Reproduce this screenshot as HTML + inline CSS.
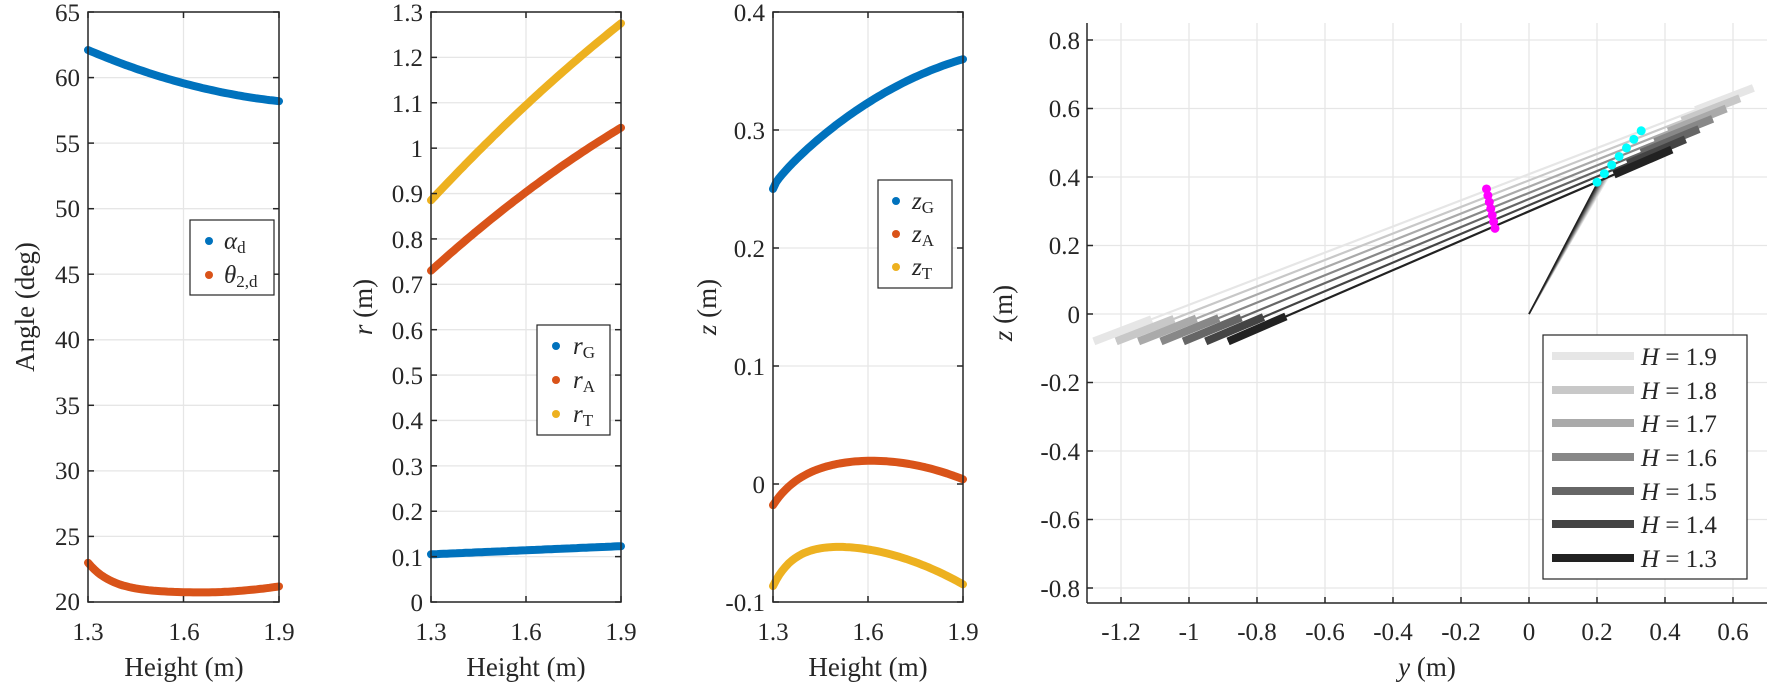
<!DOCTYPE html>
<html><head><meta charset="utf-8"><style>
html,body{margin:0;padding:0;background:#fff;}
svg{display:block;}
svg, svg text, svg tspan{font-family:'Liberation Serif','Times New Roman',Times,serif !important;}
.t{font-size:25px;fill:#262626;}
.g{stroke:#e6e6e6;stroke-width:1.3;}
.ax{stroke:#262626;stroke-width:1.5;fill:none;}
</style></head><body>
<svg id="s" width="1770" height="688" viewBox="0 0 1770 688" xmlns="http://www.w3.org/2000/svg" style="font-family:'Liberation Serif',serif">
<g id="grid"></g>
<g id="data"></g>
<g id="axes"></g>
<g class="t" text-anchor="end" style="font-family:'Liberation Serif',serif">
<text x="80" y="21">65</text><text x="80" y="86">60</text><text x="80" y="152">55</text><text x="80" y="217">50</text><text x="80" y="283">45</text><text x="80" y="348">40</text><text x="80" y="414">35</text><text x="80" y="479">30</text><text x="80" y="545">25</text><text x="80" y="610">20</text>
<text x="423" y="21">1.3</text><text x="423" y="66">1.2</text><text x="423" y="112">1.1</text><text x="423" y="157">1</text><text x="423" y="202">0.9</text><text x="423" y="248">0.8</text><text x="423" y="293">0.7</text><text x="423" y="339">0.6</text><text x="423" y="384">0.5</text><text x="423" y="429">0.4</text><text x="423" y="475">0.3</text><text x="423" y="520">0.2</text><text x="423" y="566">0.1</text><text x="423" y="611">0</text>
<text x="765" y="21">0.4</text><text x="765" y="139">0.3</text><text x="765" y="257">0.2</text><text x="765" y="375">0.1</text><text x="765" y="493">0</text><text x="765" y="611">-0.1</text>
<text x="1080" y="49">0.8</text><text x="1080" y="117">0.6</text><text x="1080" y="186">0.4</text><text x="1080" y="254">0.2</text><text x="1080" y="323">0</text><text x="1080" y="391">-0.2</text><text x="1080" y="460">-0.4</text><text x="1080" y="528">-0.6</text><text x="1080" y="597">-0.8</text>
</g>
<g class="t" text-anchor="middle" style="font-family:'Liberation Serif',serif">
<text x="88" y="640">1.3</text><text x="184" y="640">1.6</text><text x="279" y="640">1.9</text>
<text x="431" y="640">1.3</text><text x="526" y="640">1.6</text><text x="621" y="640">1.9</text>
<text x="773" y="640">1.3</text><text x="868" y="640">1.6</text><text x="963" y="640">1.9</text>
<text x="1121" y="640">-1.2</text><text x="1189" y="640">-1</text><text x="1257" y="640">-0.8</text><text x="1325" y="640">-0.6</text><text x="1393" y="640">-0.4</text><text x="1461" y="640">-0.2</text><text x="1529" y="640">0</text><text x="1597" y="640">0.2</text><text x="1665" y="640">0.4</text><text x="1733" y="640">0.6</text>
<text x="184" y="676" font-size="27">Height (m)</text>
<text x="526" y="676" font-size="27">Height (m)</text>
<text x="868" y="676" font-size="27">Height (m)</text>
<text x="1427" y="676" font-size="27"><tspan font-style="italic">y</tspan> (m)</text>
<text transform="translate(34,307) rotate(-90)" font-size="27">Angle (deg)</text>
<text transform="translate(372,307) rotate(-90)" font-size="27"><tspan font-style="italic">r</tspan> (m)</text>
<text transform="translate(716,307) rotate(-90)" font-size="27"><tspan font-style="italic">z</tspan> (m)</text>
<text transform="translate(1012,313) rotate(-90)" font-size="27"><tspan font-style="italic">z</tspan> (m)</text>
</g>
<g style="font-family:'Liberation Serif',serif">
<rect x="190" y="220" width="84" height="75" fill="#fff" stroke="#262626" stroke-width="1.2"/>
<circle cx="209" cy="241" r="4" fill="#0072BD"/><circle cx="209" cy="275" r="4" fill="#D95319"/>
<text x="224" y="249" class="t"><tspan font-style="italic">α</tspan><tspan font-size="17" dy="4">d</tspan></text>
<text x="224" y="283" class="t"><tspan font-style="italic">θ</tspan><tspan font-size="17" dy="4">2,d</tspan></text>

<rect x="537" y="325" width="73" height="110" fill="#fff" stroke="#262626" stroke-width="1.2"/>
<circle cx="556" cy="346" r="4" fill="#0072BD"/><circle cx="556" cy="380" r="4" fill="#D95319"/><circle cx="556" cy="414" r="4" fill="#EDB120"/>
<text x="573" y="354" class="t"><tspan font-style="italic">r</tspan><tspan font-size="17" dy="4">G</tspan></text>
<text x="573" y="388" class="t"><tspan font-style="italic">r</tspan><tspan font-size="17" dy="4">A</tspan></text>
<text x="573" y="422" class="t"><tspan font-style="italic">r</tspan><tspan font-size="17" dy="4">T</tspan></text>

<rect x="878" y="180" width="74" height="108" fill="#fff" stroke="#262626" stroke-width="1.2"/>
<circle cx="896" cy="201" r="4" fill="#0072BD"/><circle cx="896" cy="234" r="4" fill="#D95319"/><circle cx="896" cy="267" r="4" fill="#EDB120"/>
<text x="912" y="209" class="t"><tspan font-style="italic">z</tspan><tspan font-size="17" dy="4">G</tspan></text>
<text x="912" y="242" class="t"><tspan font-style="italic">z</tspan><tspan font-size="17" dy="4">A</tspan></text>
<text x="912" y="275" class="t"><tspan font-style="italic">z</tspan><tspan font-size="17" dy="4">T</tspan></text>

<rect x="1543" y="335" width="204" height="244" fill="#fff" stroke="#262626" stroke-width="1.2"/>
<g stroke-width="8">
<line x1="1552" y1="356" x2="1634" y2="356" stroke="#e6e6e6"/>
<line x1="1552" y1="390" x2="1634" y2="390" stroke="#c8c8c8"/>
<line x1="1552" y1="423" x2="1634" y2="423" stroke="#aaaaaa"/>
<line x1="1552" y1="457" x2="1634" y2="457" stroke="#888888"/>
<line x1="1552" y1="491" x2="1634" y2="491" stroke="#666666"/>
<line x1="1552" y1="524" x2="1634" y2="524" stroke="#444444"/>
<line x1="1552" y1="558" x2="1634" y2="558" stroke="#222222"/>
</g>
<g class="t">
<text x="1641" y="365"><tspan font-style="italic">H</tspan> = 1.9</text>
<text x="1641" y="399"><tspan font-style="italic">H</tspan> = 1.8</text>
<text x="1641" y="432"><tspan font-style="italic">H</tspan> = 1.7</text>
<text x="1641" y="466"><tspan font-style="italic">H</tspan> = 1.6</text>
<text x="1641" y="500"><tspan font-style="italic">H</tspan> = 1.5</text>
<text x="1641" y="533"><tspan font-style="italic">H</tspan> = 1.4</text>
<text x="1641" y="567"><tspan font-style="italic">H</tspan> = 1.3</text>
</g>
</g>
</svg>
<script>
var NS="http://www.w3.org/2000/svg";
function el(p,t,a){var e=document.createElementNS(NS,t);for(var k in a)e.setAttribute(k,a[k]);document.getElementById(p).appendChild(e);return e;}
function line(p,x1,y1,x2,y2,a){a=a||{};a.x1=x1;a.y1=y1;a.x2=x2;a.y2=y2;return el(p,"line",a);}
var P=[{l:88,r:279,yt:[12,77.6,143.1,208.7,274.2,339.8,405.3,470.9,536.4,602]},
{l:431,r:621,yt:[]},{l:773,r:963,yt:[12,130,248,366,484,602]}];
for(var i=0;i<14;i++)P[1].yt.push(12+i*590/13);
P.forEach(function(p){
 var m=(p.l+p.r)/2;
 line("grid",m,12,m,602,{"class":"g"});
 p.yt.forEach(function(y){line("grid",p.l,y,p.r,y,{"class":"g"});
  line("axes",p.l,y,p.l+6,y,{"class":"ax"});line("axes",p.r,y,p.r-6,y,{"class":"ax"});});
 [p.l,m,p.r].forEach(function(x){line("axes",x,602,x,596,{"class":"ax"});line("axes",x,12,x,18,{"class":"ax"});});
 el("axes","rect",{x:p.l,y:12,width:p.r-p.l,height:590,"class":"ax"});
});
function curve(pi,f,y0,y1,v0,v1,col){
 var p=P[pi],pts=[];
 for(var k=0;k<=60;k++){var t=k/60;var v=f(t);pts.push((p.l+t*(p.r-p.l)).toFixed(1)+","+(y0+(v-v0)/(v1-v0)*(y1-y0)).toFixed(1));}
 el("data","polyline",{points:pts.join(" "),fill:"none",stroke:col,"stroke-width":8,"stroke-linecap":"round","stroke-linejoin":"round"});
}
var B="#0072BD",O="#D95319",Y="#EDB120";
curve(0,function(t){return 62.1-3.9*(1.6*t-0.6*t*t);},602,12,20,65,B);
curve(0,function(t){return 20.7+2.3*Math.exp(-t/0.13)+1.2*Math.pow(Math.max(t-0.55,0),2)*2;},602,12,20,65,O);
curve(1,function(t){return 0.885+0.39*(1.15*t-0.15*t*t);},602,12,0,1.3,Y);
curve(1,function(t){return 0.73+0.315*(1.2*t-0.2*t*t);},602,12,0,1.3,O);
curve(1,function(t){return 0.105+0.018*t;},602,12,0,1.3,B);
curve(2,function(t){return 0.25+0.11*(0.25*Math.sqrt(t)+1.2*t-0.45*t*t);},602,12,-0.1,0.4,B);
curve(2,function(t){return 0.02-0.022*Math.exp(-t/0.12)-0.064*(t-0.5)*(t-0.5);},602,12,-0.1,0.4,O);
curve(2,function(t){return -0.052-0.03*Math.exp(-t/0.1)-0.062*(t-0.27)*(t-0.27);},602,12,-0.1,0.4,Y);
function X(y){return 1529+y*340;} function Z(z){return 314-z*342.5;}
for(var k=-6;k<=3;k++)line("grid",X(k*0.2),23,X(k*0.2),603,{"class":"g"});
for(var k=-4;k<=4;k++)line("grid",1087,Z(k*0.2),1767,Z(k*0.2),{"class":"g"});
line("axes",1087,23,1087,603,{"class":"ax"});line("axes",1087,603,1767,603,{"class":"ax"});
for(var k=-6;k<=3;k++)line("axes",X(k*0.2),603,X(k*0.2),597,{"class":"ax"});
for(var k=-4;k<=4;k++)line("axes",1087,Z(k*0.2),1093,Z(k*0.2),{"class":"ax"});
var cols=["#222222","#444444","#666666","#888888","#aaaaaa","#c8c8c8","#e6e6e6"];
for(var i=6;i>=0;i--){
 var s=i/6;
 var L=[-0.885-0.395*s,-0.08], R=[0.42+0.24*s,0.48+0.18*s];
 var hip=[0.2+0.006*i,0.38+0.004*i];
 line("data",X(0),Z(0),X(hip[0]),Z(hip[1]),{stroke:cols[i],"stroke-width":1.6});
 line("data",X(L[0]),Z(L[1]),X(R[0]),Z(R[1]),{stroke:cols[i],"stroke-width":2.2});
 var dx=R[0]-L[0],dz=R[1]-L[1],len=Math.sqrt(dx*dx+dz*dz),ux=dx/len,uz=dz/len,th=0.17/ux;
 line("data",X(L[0]),Z(L[1]),X(L[0]+ux*th),Z(L[1]+uz*th),{stroke:cols[i],"stroke-width":8});
 line("data",X(R[0]-ux*th),Z(R[1]-uz*th),X(R[0]),Z(R[1]),{stroke:cols[i],"stroke-width":8});
}
for(var i=0;i<7;i++){var s=i/6;
 el("data","circle",{cx:X(-0.1-0.025*s),cy:Z(0.25+0.115*s),r:4.5,fill:"#ff00ff"});
 el("data","circle",{cx:X(0.2+0.13*s),cy:Z(0.385+0.15*s),r:4.5,fill:"#00ffff"});}
</script>
</body></html>
